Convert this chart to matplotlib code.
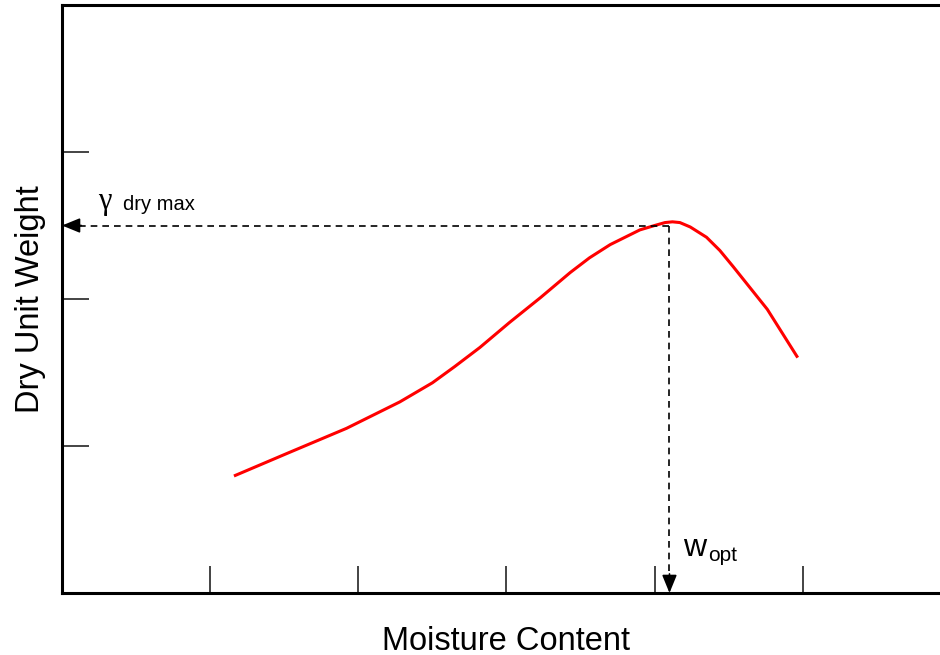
# Compaction curve sketch: dry unit weight vs moisture content

import matplotlib.pyplot as plt

plt.rcParams['font.family'] = ['Liberation Sans', 'DejaVu Sans']

# curve (arbitrary units)
moisture = [1.17, 1.52, 1.92, 2.28, 2.50, 2.65, 2.82, 3.02, 3.23, 3.43, 3.56, 3.70,
            3.80, 3.90, 4.00, 4.07, 4.12, 4.17, 4.24, 4.35, 4.44, 4.53, 4.76, 4.96]
dry_weight = [0.80, 0.95, 1.12, 1.30, 1.43, 1.54, 1.67, 1.84, 2.01, 2.18, 2.28, 2.37,
              2.42, 2.47, 2.50, 2.52, 2.525, 2.52, 2.49, 2.42, 2.33, 2.22, 1.93, 1.61]

w_opt = 4.10
gamma_max = 2.50

xticks = [1, 2, 3, 4, 5]
yticks = [1, 2, 3]

fig = plt.figure(figsize=(9.4, 6.55), dpi=100)
ax = fig.add_axes([62/940, 62/655, 889/940, 588/655])

ax.plot(moisture, dry_weight, color='red', lw=2.2, solid_joinstyle='round')

# dashed guides to the axes
ax.plot([w_opt, 0.12], [gamma_max, gamma_max], color='black', lw=1.2, ls=(0, (4, 3)))
ax.plot([w_opt, w_opt], [gamma_max, 0.12], color='black', lw=1.2, ls=(0, (4, 3)))
ax.annotate('', xy=(0.0, gamma_max), xytext=(0.13, gamma_max),
            arrowprops=dict(arrowstyle='-|>,head_length=1.1,head_width=0.45',
                            color='black', lw=1.2, shrinkA=0, shrinkB=0))
ax.annotate('', xy=(w_opt, 0.0), xytext=(w_opt, 0.13),
            arrowprops=dict(arrowstyle='-|>,head_length=1.1,head_width=0.45',
                            color='black', lw=1.2, shrinkA=0, shrinkB=0))

ax.text(0.245, 2.61, 'γ', fontsize=22, family=['Liberation Serif', 'DejaVu Serif'])
ax.text(0.41, 2.605, 'dry max', fontsize=14.5)
ax.text(4.19, 0.25, 'w', fontsize=23)
ax.text(4.36, 0.22, 'opt', fontsize=15)

ax.set_xlim(0, 6)
ax.set_ylim(0, 4)
ax.set_xticks(xticks)
ax.set_yticks(yticks)
ax.set_xticklabels([])
ax.set_yticklabels([])
ax.tick_params(direction='in', length=19.5, width=1.1, color='#111111')

for side in ['left', 'bottom', 'top', 'right']:
    ax.spines[side].set_linewidth(2.2)

ax.set_xlabel('Moisture Content', fontsize=23.5, labelpad=20)
ax.set_ylabel('Dry Unit Weight', fontsize=23.5, labelpad=8)

plt.savefig('out.png', dpi=100)
